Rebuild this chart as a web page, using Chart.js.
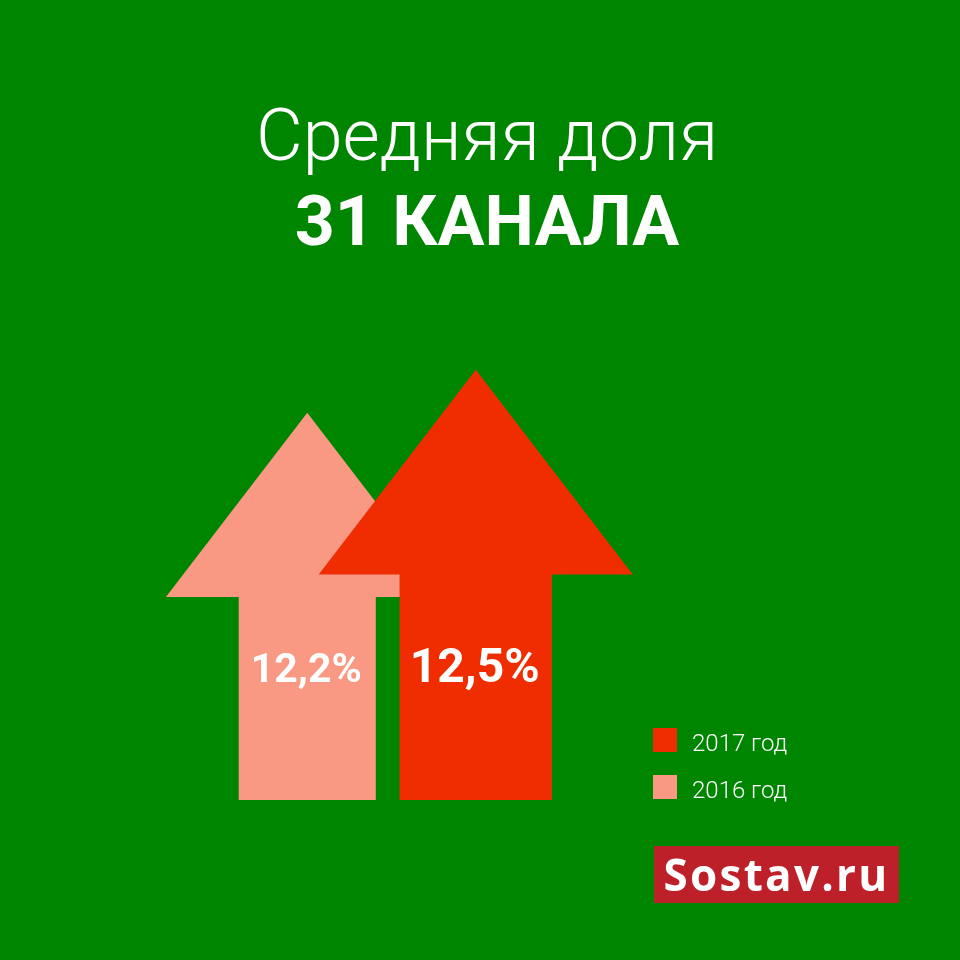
<!DOCTYPE html>
<html>
<head>
<meta charset="utf-8">
<script src="https://cdn.jsdelivr.net/npm/chart.js@4"></script>
<style>
  html, body { margin: 0; padding: 0; }
  body { width: 960px; height: 960px; background: #008500; position: relative; overflow: hidden; font-family: Roboto, sans-serif; color: #fff; }
  #chart { position: absolute; left: 0; top: 0; }
  .t1 { position: absolute; left: 7px; width: 960px; text-align: center; top: 100px; font-size: 72px; line-height: 72px; font-weight: 300; }
  .t2 { position: absolute; left: 7px; width: 960px; text-align: center; top: 186px; font-size: 70px; line-height: 70px; font-weight: 700; }
  #leg { position: absolute; left: 653px; top: 728px; width: 250px; }
  .row { position: absolute; left: 0; white-space: nowrap; font-size: 24px; line-height: 24px; font-weight: 300; }
  .row span { display: inline-block; width: 24px; height: 24px; vertical-align: top; margin-right: 15px; }
  .row b { font-weight: 300; position: relative; top: 3px; }
  .logo { position: absolute; left: 654px; top: 846px; width: 245px; height: 57px; background: #be2029; font-family: "Open Sans", sans-serif; font-weight: 700; font-size: 44px; line-height: 57px; letter-spacing: 2.3px; text-align: center; }
</style>
</head>
<body>
<div class="t1">Средняя доля</div>
<div class="t2">31 КАНАЛА</div>
<canvas id="chart" width="960" height="960"></canvas>
<div id="leg"></div>
<div class="logo">Sostav.ru</div>
<script>
var categories = ['2016 год', '2017 год'];
var shares = [12.2, 12.5];
var valueLabels = ['12,2%', '12,5%'];
var colors = ['#f99883', '#ef2d00'];
var labelFont = [41, 48];

// legend, newest first like the original
var legendOrder = [1, 0];
var leg = document.getElementById('leg');
legendOrder.forEach(function(i, k) {
    var row = document.createElement('div');
    row.className = 'row';
    row.style.top = (k * 47) + 'px';
    row.innerHTML = '<span style="background:' + colors[i] + '"></span><b>' + categories[i] + '</b>';
    leg.appendChild(row);
});

var arrowPlugin = {
    id: 'arrows',
    afterDatasetsDraw: function(chart) {
        var ctx = chart.ctx;
        var y = chart.scales.y;
        var base = y.getPixelForValue(y.min);
        var meta = chart.getDatasetMeta(0);
        meta.data.forEach(function(bar, i) {
            var h = base - bar.y;
            var shaftHalf = h * 0.177;
            var headHalf = h * 0.365;
            var headY = bar.y + h * 0.476;
            ctx.save();
            ctx.fillStyle = colors[i];
            ctx.beginPath();
            ctx.moveTo(bar.x, bar.y);
            ctx.lineTo(bar.x + headHalf, headY);
            ctx.lineTo(bar.x + shaftHalf, headY);
            ctx.lineTo(bar.x + shaftHalf, base);
            ctx.lineTo(bar.x - shaftHalf, base);
            ctx.lineTo(bar.x - shaftHalf, headY);
            ctx.lineTo(bar.x - headHalf, headY);
            ctx.closePath();
            ctx.fill();
            ctx.restore();
        });
        meta.data.forEach(function(bar, i) {
            ctx.save();
            ctx.fillStyle = '#ffffff';
            ctx.font = 'bold ' + labelFont[i] + 'px Roboto';
            ctx.textAlign = 'center';
            ctx.textBaseline = 'alphabetic';
            ctx.fillText(valueLabels[i], bar.x - 1, base - 118);
            ctx.restore();
        });
    }
};

new Chart(document.getElementById('chart').getContext('2d'), {
    type: 'bar',
    data: {
        labels: categories,
        datasets: [{
            data: shares,
            backgroundColor: 'rgba(0,0,0,0)',
            borderWidth: 0
        }]
    },
    options: {
        responsive: false,
        animation: false,
        layout: { padding: { left: 223, right: 400, top: 298, bottom: 160 } },
        plugins: { legend: { display: false }, tooltip: { enabled: false } },
        scales: {
            x: { display: false },
            y: { display: false, min: 9.5, max: 13 }
        }
    },
    plugins: [arrowPlugin]
});
</script>
</body>
</html>
